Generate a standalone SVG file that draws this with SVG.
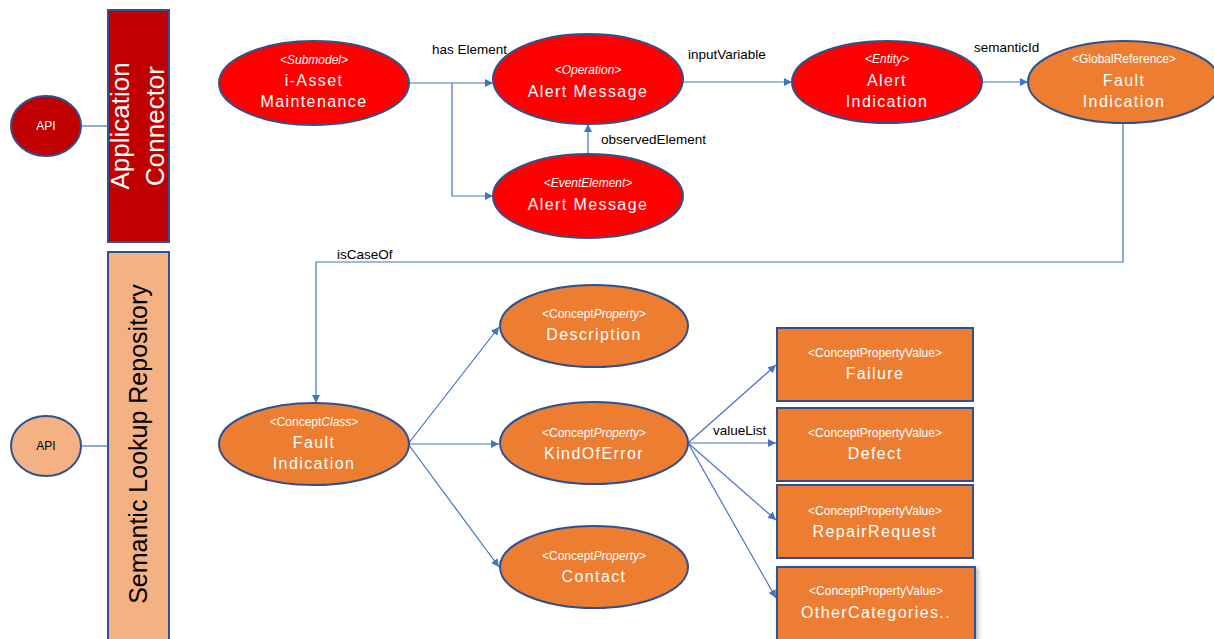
<svg xmlns="http://www.w3.org/2000/svg" width="1214" height="639" viewBox="0 0 1214 639">
  <style>
    .bar { stroke: #2F528F; stroke-width: 2; }
    .node { stroke: #2F528F; stroke-width: 2; }
    .red { fill: #FF0000; }
    .dark { fill: #C00000; }
    .orange { fill: #ED7D31; }
    .peach { fill: #F4B183; }
    .st { font-family: "Liberation Sans", Arial, sans-serif; font-size: 12px; fill: #fff; text-anchor: middle; }
    .main { font-family: "Liberation Sans", Arial, sans-serif; font-size: 16px; fill: #fff; text-anchor: middle; letter-spacing: 1.4px; }
    .lbl { font-family: "Liberation Sans", Arial, sans-serif; font-size: 13.5px; fill: #000; }
    .bartxt { font-family: "Liberation Sans", Arial, sans-serif; font-size: 26px; text-anchor: middle; }
    .api { font-family: "Liberation Sans", Arial, sans-serif; font-size: 12px; text-anchor: middle; }
    .conn { fill: none; stroke: #4472C4; stroke-width: 1.2; }
    .it { font-style: italic; }
  </style>
  <defs>
    <marker id="arrow" viewBox="0 0 10 10" refX="10" refY="5" markerWidth="8" markerHeight="8" markerUnits="userSpaceOnUse" orient="auto">
      <path d="M0,0 L10,5 L0,10 z" fill="#4472C4"/>
    </marker>
    <filter id="shadow" x="-10%" y="-10%" width="130%" height="130%">
      <feDropShadow dx="2" dy="2" stdDeviation="2" flood-color="#000" flood-opacity="0.3"/>
    </filter>
  </defs>

  <rect width="1214" height="639" fill="#fff"/>

  <!-- connectors -->
  <g id="connectors">
    <line class="conn" x1="82" y1="126" x2="107" y2="126"/>
    <line class="conn" x1="82" y1="446" x2="107" y2="446"/>
    <path class="conn" d="M408,83 H493" marker-end="url(#arrow)"/>
    <path class="conn" d="M452,83 V196 H493" marker-end="url(#arrow)"/>
    <path class="conn" d="M683,82 H792" marker-end="url(#arrow)"/>
    <path class="conn" d="M588,154 V124" marker-end="url(#arrow)"/>
    <path class="conn" d="M982,82 H1028" marker-end="url(#arrow)"/>
    <path class="conn" d="M1123,123 V262 H316 V403" marker-end="url(#arrow)"/>
    <path class="conn" d="M408,444 L499,327" marker-end="url(#arrow)"/>
    <path class="conn" d="M408,444 H499" marker-end="url(#arrow)"/>
    <path class="conn" d="M408,444 L499,567" marker-end="url(#arrow)"/>
    <path class="conn" d="M688,443 L776,365" marker-end="url(#arrow)"/>
    <path class="conn" d="M688,443 H776" marker-end="url(#arrow)"/>
    <path class="conn" d="M688,443 L776,520" marker-end="url(#arrow)"/>
    <path class="conn" d="M688,443 L776,598" marker-end="url(#arrow)"/>
    <text class="lbl" x="432" y="54">has Element</text>
    <text class="lbl" x="688" y="59">inputVariable</text>
    <text class="lbl" x="601" y="144">observedElement</text>
    <text class="lbl" x="974" y="52">semanticId</text>
    <text class="lbl" x="337" y="259">isCaseOf</text>
    <text class="lbl" x="713" y="435">valueList</text>
  </g>

  <!-- side bars -->
  <g id="application-connector">
    <rect class="bar dark" x="108" y="10" width="61" height="232"/>
    <text class="bartxt" fill="#fff" transform="translate(129,126) rotate(-90)">Application</text>
    <text class="bartxt" fill="#fff" transform="translate(164,126) rotate(-90)">Connector</text>
  </g>
  <g id="semantic-lookup-repository">
    <rect class="bar peach" x="108" y="252" width="61" height="392"/>
    <text class="bartxt" fill="#000" font-size="25" transform="translate(147,444) rotate(-90)" style="font-size:25px">Semantic Lookup Repository</text>
  </g>

  <g id="api-top">
    <ellipse class="node dark" cx="46" cy="126" rx="35" ry="30"/>
    <text class="api" fill="#fff" x="46" y="130">API</text>
  </g>
  <g id="api-bottom">
    <ellipse class="node peach" cx="46" cy="446" rx="35" ry="30"/>
    <text class="api" fill="#000" x="46" y="450">API</text>
  </g>

  <!-- asset administration shell elements -->
  <g id="submodel">
    <ellipse class="node red" cx="314" cy="83" rx="95" ry="42"/>
    <text class="st it" x="314" y="64">&lt;Submodel&gt;</text>
    <text class="main" x="314" y="86">i-Asset</text>
    <text class="main" x="314" y="107">Maintenance</text>
  </g>
  <g id="operation">
    <ellipse class="node red" cx="588" cy="79" rx="95" ry="45"/>
    <text class="st it" x="588" y="74">&lt;Operation&gt;</text>
    <text class="main" x="588" y="97">Alert Message</text>
  </g>
  <g id="event-element">
    <ellipse class="node red" cx="588" cy="196" rx="95" ry="42"/>
    <text class="st it" x="588" y="187">&lt;EventElement&gt;</text>
    <text class="main" x="588" y="210">Alert Message</text>
  </g>
  <g id="entity">
    <ellipse class="node red" cx="887" cy="82" rx="95" ry="41"/>
    <text class="st it" x="887" y="63">&lt;Entity&gt;</text>
    <text class="main" x="887" y="86">Alert</text>
    <text class="main" x="887" y="107">Indication</text>
  </g>
  <g id="global-reference">
    <ellipse class="node orange" cx="1124" cy="82" rx="96" ry="41"/>
    <text class="st" x="1124" y="63">&lt;GlobalReference&gt;</text>
    <text class="main" x="1124" y="86">Fault</text>
    <text class="main" x="1124" y="107">Indication</text>
  </g>

  <!-- semantic repository concepts -->
  <g id="concept-class">
    <ellipse class="node orange" cx="314" cy="444" rx="95" ry="41"/>
    <text class="st" x="314" y="426">&lt;Concept<tspan class="it">Class</tspan>&gt;</text>
    <text class="main" x="314" y="448">Fault</text>
    <text class="main" x="314" y="469">Indication</text>
  </g>
  <g id="prop-description">
    <ellipse class="node orange" cx="594" cy="326" rx="94" ry="41"/>
    <text class="st" x="594" y="318">&lt;Concept<tspan class="it">Property</tspan>&gt;</text>
    <text class="main" x="594" y="340">Description</text>
  </g>
  <g id="prop-kind-of-error">
    <ellipse class="node orange" cx="594" cy="443" rx="94" ry="41"/>
    <text class="st" x="594" y="437">&lt;Concept<tspan class="it">Property</tspan>&gt;</text>
    <text class="main" x="594" y="459">KindOfError</text>
  </g>
  <g id="prop-contact">
    <ellipse class="node orange" cx="594" cy="567" rx="94" ry="41"/>
    <text class="st" x="594" y="560">&lt;Concept<tspan class="it">Property</tspan>&gt;</text>
    <text class="main" x="594" y="582">Contact</text>
  </g>

  <g id="value-failure">
    <rect class="node orange" x="777" y="328" width="196" height="73"/>
    <text class="st" x="875" y="357">&lt;ConceptPropertyValue&gt;</text>
    <text class="main" x="875" y="379">Failure</text>
  </g>
  <g id="value-defect">
    <rect class="node orange" x="777" y="408" width="196" height="73"/>
    <text class="st" x="875" y="437">&lt;ConceptPropertyValue&gt;</text>
    <text class="main" x="875" y="459">Defect</text>
  </g>
  <g id="value-repair-request">
    <rect class="node orange" x="777" y="485" width="196" height="73"/>
    <text class="st" x="875" y="515">&lt;ConceptPropertyValue&gt;</text>
    <text class="main" x="875" y="537">RepairRequest</text>
  </g>
  <g id="value-other">
    <rect class="node orange" x="777" y="567" width="198" height="76" filter="url(#shadow)"/>
    <text class="st" x="876" y="595">&lt;ConceptPropertyValue&gt;</text>
    <text class="main" x="876" y="618">OtherCategories..</text>
  </g>
</svg>
